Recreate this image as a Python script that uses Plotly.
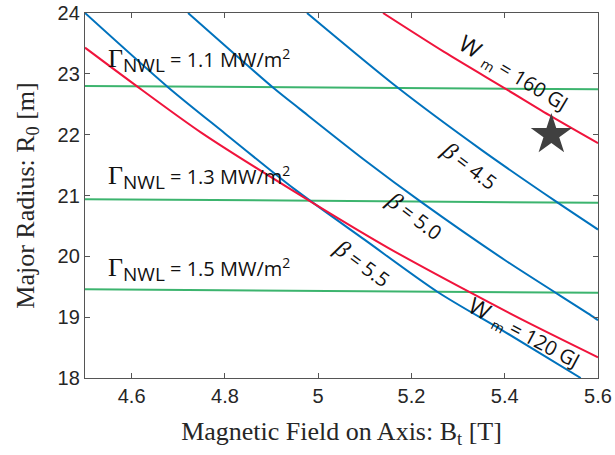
import plotly.graph_objects as go

# ---- data ----
# beta contours (blue)
beta55_B = [4.50, 4.678, 4.80, 4.95, 5.10, 5.257, 5.40, 5.563]
beta55_R = [24.00, 22.78, 22.02, 21.10, 20.27, 19.41, 18.76, 18.00]
beta50_B = [4.721, 4.907, 4.961, 5.10, 5.225, 5.40, 5.589, 5.60]
beta50_R = [24.00, 22.75, 22.42, 21.58, 20.87, 19.94, 19.01, 18.95]
beta45_B = [4.976, 5.171, 5.35, 5.512, 5.60]
beta45_R = [24.00, 22.77, 21.75, 20.89, 20.44]
# stored energy contours (red)
wm160_B = [5.139, 5.27, 5.405, 5.50, 5.60]
wm160_R = [24.00, 23.36, 22.74, 22.30, 21.86]
wm120_B = [4.50, 4.60, 4.75, 4.95, 5.15, 5.325, 5.45, 5.60]
wm120_R = [23.43, 22.86, 22.03, 21.06, 20.14, 19.41, 18.91, 18.34]
# neutron wall load contours (green)
nwl_B = [4.50, 5.60]
nwl11_R = [22.80, 22.745]
nwl13_R = [20.94, 20.88]
nwl15_R = [19.46, 19.40]
# design point
star_B = [5.50]
star_R = [22.00]

x_ticks = [4.6, 4.8, 5.0, 5.2, 5.4, 5.6]
x_tick_text = ["4.6", "4.8", "5", "5.2", "5.4", "5.6"]
y_ticks = [18, 19, 20, 21, 22, 23, 24]

BLUE = "#0072BD"
RED = "#F0143C"
GREEN = "#3CB46E"
LW = 2

fig = go.Figure()
for b, r in [(nwl_B, nwl11_R), (nwl_B, nwl13_R), (nwl_B, nwl15_R)]:
    fig.add_trace(go.Scatter(x=b, y=r, mode="lines", line=dict(color=GREEN, width=LW), showlegend=False))
for b, r in [(beta55_B, beta55_R), (beta50_B, beta50_R), (beta45_B, beta45_R)]:
    fig.add_trace(go.Scatter(x=b, y=r, mode="lines", line=dict(color=BLUE, width=LW, shape="spline", smoothing=0.8), showlegend=False))
for b, r in [(wm160_B, wm160_R), (wm120_B, wm120_R)]:
    fig.add_trace(go.Scatter(x=b, y=r, mode="lines", line=dict(color=RED, width=LW, shape="spline", smoothing=0.8), showlegend=False))
fig.add_trace(go.Scatter(x=star_B, y=star_R, mode="markers",
                         marker=dict(symbol="star", size=31, color="#404040", line=dict(width=0)),
                         showlegend=False))

SANS = "Open Sans"
SERIF = "Liberation Serif"
ann = []
def gamma_label(y, val):
    txt = ('<span style="font-family:Liberation Serif;font-size:26px">Γ</span>'
           '<sub><span style="font-size:19px">NWL</span></sub> = ' + val + ' MW/m<sup>2</sup>')
    ann.append(dict(x=4.546, y=y, xref="x", yref="y", text=txt, showarrow=False,
                    xanchor="left", yanchor="middle", font=dict(family=SANS, size=20, color="#111")))
gamma_label(23.21, "1.1")
gamma_label(21.28, "1.3")
gamma_label(19.78, "1.5")

def beta_label(x, y, val, ang):
    txt = '<span style="font-family:Liberation Serif;font-size:24px"><i>β</i></span> = ' + val
    ann.append(dict(x=x, y=y, xref="x", yref="y", text=txt, showarrow=False, textangle=ang,
                    xanchor="center", yanchor="middle", font=dict(family=SANS, size=20, color="#111")))
beta_label(5.3255, 21.485, "4.5", 37)
beta_label(5.2075, 20.663, "5.0", 37)
beta_label(5.094, 19.89, "5.5", 36)

def wm_label(x, y, val, ang):
    txt = '<span style="font-size:23px">W</span><sub>  m</sub> = ' + val + ' GJ'
    ann.append(dict(x=x, y=y, xref="x", yref="y", text=txt, showarrow=False, textangle=ang,
                    xanchor="center", yanchor="middle", font=dict(family=SANS, size=20, color="#111")))
wm_label(5.42, 23.03, "160", 31)
wm_label(5.4434, 18.74, "120", 28)

fig.update_layout(
    width=615, height=455,
    margin=dict(l=85, r=17, t=13, b=77),
    paper_bgcolor="white", plot_bgcolor="white",
    annotations=ann,
    xaxis=dict(range=[4.5, 5.6], tickvals=x_ticks, ticktext=x_tick_text, automargin=False,
               ticks="inside", ticklen=5, tickcolor="#555", showline=True, linecolor="#555",
               linewidth=1.3, mirror="ticks", showgrid=False, zeroline=False,
               tickfont=dict(family="Liberation Sans", size=20, color="#262626"),
               title=dict(text="Magnetic Field on Axis: B<sub>t</sub> [T]",
                          font=dict(family=SERIF, size=26, color="#262626"))),
    yaxis=dict(range=[18, 24], tickvals=y_ticks, automargin=False,
               ticks="inside", ticklen=5, tickcolor="#555", showline=True, linecolor="#555",
               linewidth=1.3, mirror="ticks", showgrid=False, zeroline=False,
               tickfont=dict(family="Liberation Sans", size=20, color="#262626"),
               title=dict(text="Major Radius: R<sub>0</sub> [m]",
                          font=dict(family=SERIF, size=26, color="#262626"))),
)
fig.write_html("out.html")
